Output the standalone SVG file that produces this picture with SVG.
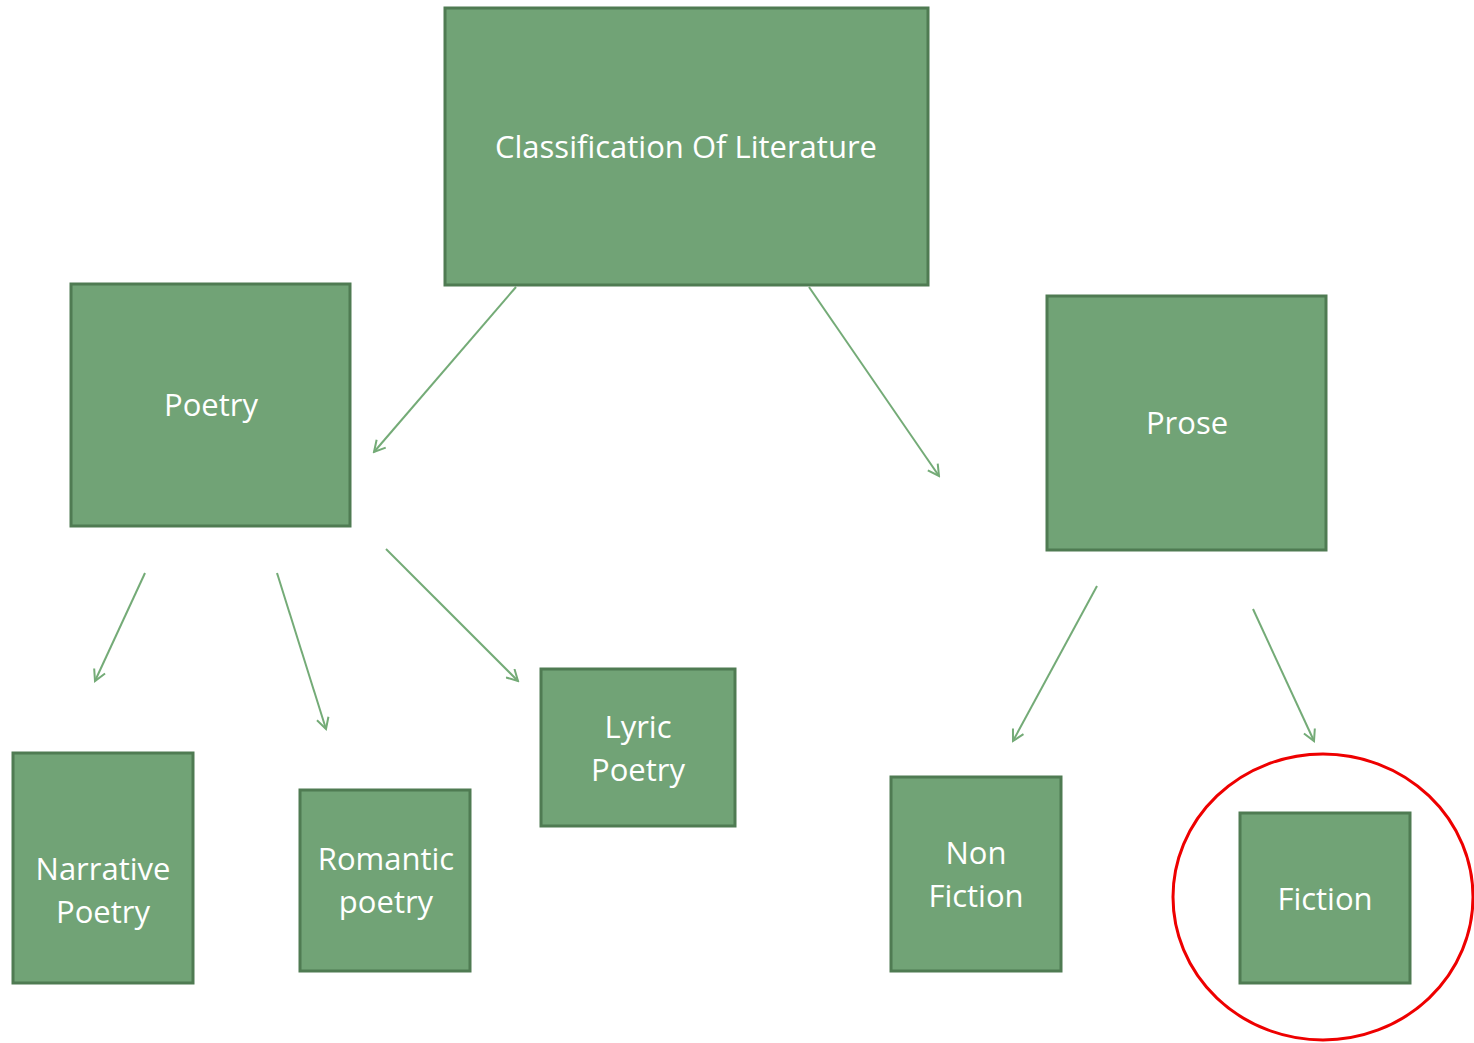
<svg xmlns="http://www.w3.org/2000/svg" width="1474" height="1043" viewBox="0 0 1474 1043">
<style>
.box{fill:#71a376;stroke:#4f7b52;stroke-width:3}
.lbl{font-family:"Open Sans","Noto Sans",sans-serif;font-size:31px;fill:#ffffff;text-anchor:middle}
.conn{stroke:#74ab77;stroke-width:2;fill:none}
</style>
<defs>
<marker id="arr" markerWidth="14" markerHeight="14" refX="12" refY="7" orient="auto" markerUnits="userSpaceOnUse" viewBox="0 0 14 14">
<path d="M1,1 L12,7 L1,13" fill="none" stroke="#74ab77" stroke-width="2"/>
</marker>
</defs>
<rect width="1474" height="1043" fill="#ffffff"/>
<g id="connectors">
<line class="conn" x1="516" y1="287" x2="374" y2="452" marker-end="url(#arr)"/>
<line class="conn" x1="809" y1="287" x2="939" y2="476" marker-end="url(#arr)"/>
<line class="conn" x1="145" y1="573" x2="95" y2="681" marker-end="url(#arr)"/>
<line class="conn" x1="277" y1="573" x2="326" y2="729" marker-end="url(#arr)"/>
<line class="conn" x1="386" y1="549" x2="518" y2="681" marker-end="url(#arr)"/>
<line class="conn" x1="1097" y1="586" x2="1013" y2="741" marker-end="url(#arr)"/>
<line class="conn" x1="1253" y1="609" x2="1314" y2="741" marker-end="url(#arr)"/>
<line x1="1188" y1="332" x2="1188" y2="300" stroke="#7fb182" stroke-width="1.5" opacity="0.6"/>
</g>
<g id="classification">
<rect class="box" x="445" y="8" width="483" height="277"/>
<text class="lbl" x="686" y="158">Classification Of Literature</text>
</g>
<g id="poetry">
<rect class="box" x="71" y="284" width="279" height="242"/>
<text class="lbl" x="211" y="416">Poetry</text>
</g>
<g id="prose">
<rect class="box" x="1047" y="296" width="279" height="254"/>
<text class="lbl" x="1187" y="434">Prose</text>
</g>
<g id="narrative">
<rect class="box" x="13" y="753" width="180" height="230"/>
<text class="lbl" x="103" y="880">Narrative</text>
<text class="lbl" x="103" y="923">Poetry</text>
</g>
<g id="romantic">
<rect class="box" x="300" y="790" width="170" height="181"/>
<text class="lbl" x="386" y="870">Romantic</text>
<text class="lbl" x="386" y="913">poetry</text>
</g>
<g id="lyric">
<rect class="box" x="541" y="669" width="194" height="157"/>
<text class="lbl" x="638" y="738">Lyric</text>
<text class="lbl" x="638" y="781">Poetry</text>
</g>
<g id="nonfiction">
<rect class="box" x="891" y="777" width="170" height="194"/>
<text class="lbl" x="976" y="864">Non</text>
<text class="lbl" x="976" y="907">Fiction</text>
</g>
<g id="fiction">
<rect class="box" x="1240" y="813" width="170" height="170"/>
<text class="lbl" x="1325" y="910">Fiction</text>
</g>
<ellipse cx="1323" cy="897" rx="150" ry="143" fill="none" stroke="#ee0000" stroke-width="3"/>
</svg>
